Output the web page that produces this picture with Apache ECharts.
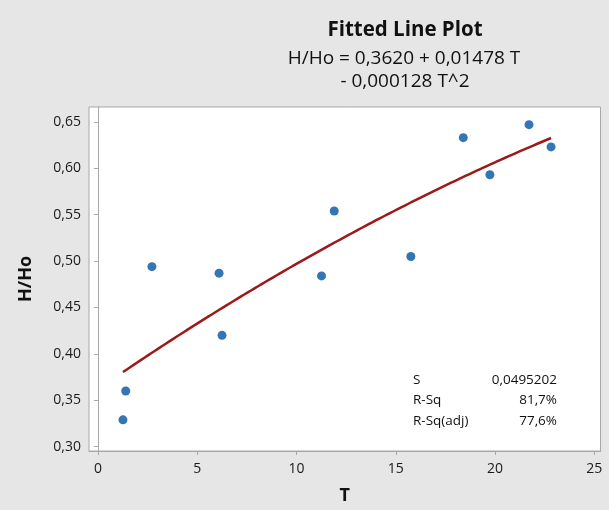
<!DOCTYPE html>
<html>
<head>
<meta charset="utf-8">
<script src="https://cdn.jsdelivr.net/npm/echarts@6/dist/echarts.min.js"></script>
<style>
  html, body { margin: 0; padding: 0; background: #e6e6e6; }
  #chart { width: 609px; height: 510px; }
</style>
</head>
<body>
<div id="chart"></div>
<script>
// Observations: temperature T and relative height H/Ho
const tValues = [1.26, 1.40, 2.72, 6.10, 6.25, 11.26, 11.90, 15.76, 18.40, 19.74, 21.71, 22.82];
const hValues = [0.329, 0.360, 0.494, 0.487, 0.420, 0.484, 0.554, 0.505, 0.633, 0.593, 0.647, 0.623];

// Quadratic fit coefficients: H/Ho = b0 + b1*T + b2*T^2
const fitCoefficients = [0.3620, 0.01478, -0.000128];

// Axis ticks
const xTicks = [0, 5, 10, 15, 20, 25];
const yTicks = [0.30, 0.35, 0.40, 0.45, 0.50, 0.55, 0.60, 0.65];

// Summary statistics shown in the corner of the plot
const statNames = ['S', 'R-Sq', 'R-Sq(adj)'];
const statValues = ['0,0495202', '81,7%', '77,6%'];

const FONT = '"Open Sans", "Noto Sans", sans-serif';

// Evaluate the fitted quadratic along the observed T range
const tMin = Math.min(...tValues), tMax = Math.max(...tValues);
const fitLine = [];
const steps = 120;
for (let i = 0; i <= steps; i++) {
  const t = tMin + (tMax - tMin) * i / steps;
  fitLine.push([t, fitCoefficients[0] + fitCoefficients[1] * t + fitCoefficients[2] * t * t]);
}

const comma = (v, d) => v.toFixed(d).replace('.', ',');

const chart = echarts.init(document.getElementById('chart'), null, { renderer: 'canvas' });

const statGraphics = [];
statNames.forEach((name, i) => {
  statGraphics.push({
    type: 'text', left: 413, top: 373 + i * 20.5,
    style: { text: name, font: '13.5px ' + FONT, fill: '#111' }
  });
  statGraphics.push({
    type: 'text', right: 609 - 557, top: 373 + i * 20.5,
    style: { text: statValues[i], font: '13.5px ' + FONT, fill: '#111', textAlign: 'right' }
  });
});

chart.setOption({
  backgroundColor: '#e6e6e6',
  animation: false,
  title: [
    {
      text: 'Fitted Line Plot',
      left: 400, top: 15, textAlign: 'center',
      textStyle: { fontFamily: FONT, fontSize: 20.5, fontWeight: 'bold', color: '#111' }
    },
    {
      text: 'H/Ho = 0,3620 + 0,01478 T',
      left: 399, top: 44, textAlign: 'center',
      textStyle: { fontFamily: FONT, fontSize: 19, fontWeight: 'normal', color: '#111' }
    },
    {
      text: '- 0,000128 T^2',
      left: 400, top: 67, textAlign: 'center',
      textStyle: { fontFamily: FONT, fontSize: 19, fontWeight: 'normal', color: '#111' }
    }
  ],
  grid: {
    left: 89, top: 107, right: 8.5, bottom: 56.7,
    show: true, backgroundColor: '#ffffff', borderColor: '#a8a8a8', borderWidth: 1
  },
  xAxis: {
    type: 'value',
    min: -0.45, max: 25.31,
    name: 'T', nameLocation: 'middle', nameGap: 36,
    nameTextStyle: { fontFamily: FONT, fontSize: 18, fontWeight: 'bold', color: '#111' },
    splitLine: { show: false },
    axisLine: { show: true, lineStyle: { color: '#a8a8a8' } },
    axisTick: { show: true, length: 4, customValues: xTicks, lineStyle: { color: '#a8a8a8' } },
    axisLabel: {
      customValues: xTicks, margin: 11,
      fontFamily: FONT, fontSize: 14, color: '#1a1a1a',
      formatter: v => String(Math.round(v))
    }
  },
  yAxis: {
    type: 'value',
    min: 0.2954, max: 0.666,
    name: 'H/Ho', nameLocation: 'middle', nameGap: 54,
    nameTextStyle: { fontFamily: FONT, fontSize: 18, fontWeight: 'bold', color: '#111' },
    splitLine: { show: false },
    axisLine: { show: true, lineStyle: { color: '#a8a8a8' } },
    axisTick: { show: true, length: 4, customValues: yTicks, lineStyle: { color: '#a8a8a8' } },
    axisLabel: {
      customValues: yTicks, margin: 8,
      fontFamily: FONT, fontSize: 14, color: '#1a1a1a',
      formatter: v => comma(v, 2)
    }
  },
  graphic: statGraphics,
  series: [
    {
      type: 'line',
      data: fitLine,
      showSymbol: false,
      smooth: false,
      lineStyle: { color: '#9c1a1a', width: 2.5 },
      z: 2
    },
    {
      type: 'scatter',
      data: tValues.map((t, i) => [t, hValues[i]]),
      symbol: 'circle',
      symbolSize: 9,
      itemStyle: { color: '#0052a3' },
      z: 3
    }
  ]
});
</script>
</body>
</html>
